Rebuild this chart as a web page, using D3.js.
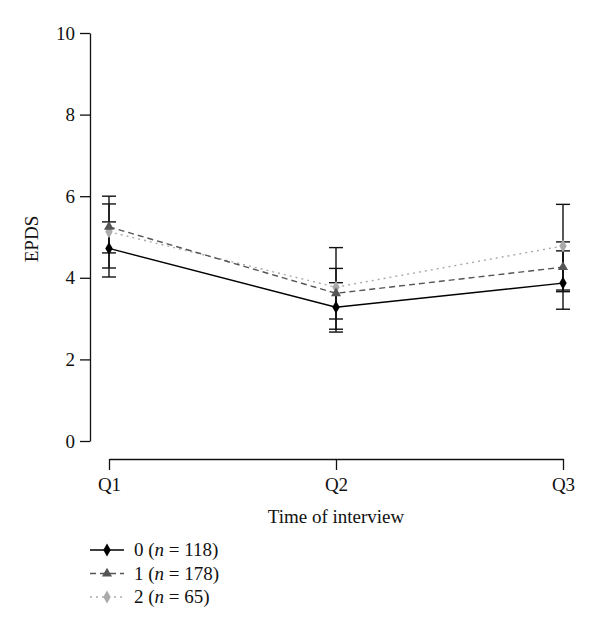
<!DOCTYPE html>
<html><head><meta charset="utf-8">
<script src="https://cdn.jsdelivr.net/npm/d3@7"></script>
<style>body{margin:0;background:#fff}svg{display:block}text{font-family:"Liberation Serif","DejaVu Serif",serif;fill:#111}</style>
</head><body>
<script>
const categories = ["Q1","Q2","Q3"];
const seriesNames = ["0","1","2"];
const seriesN = [118,178,65];
const means0 = [4.72, 3.28, 3.87];
const means1 = [5.25, 3.62, 4.26];
const means2 = [5.13, 3.77, 4.78];
const lower0 = [4.02, 2.67, 3.23];
const upper0 = [5.37, 3.88, 4.66];
const lower1 = [4.61, 2.99, 3.66];
const upper1 = [5.81, 4.23, 4.88];
const lower2 = [4.24, 2.74, 3.70];
const upper2 = [6.00, 4.74, 5.80];
const yTicks = [0,2,4,6,8,10];

const W=600,H=630;
const svg=d3.select("body").append("svg").attr("width",W).attr("height",H);
const x=d3.scalePoint().domain(categories).range([109,563]);
const y=d3.scaleLinear().domain([0,10]).range([441,33]);

const series=[
 {name:seriesNames[0],n:seriesN[0],m:means0,lo:lower0,hi:upper0,color:"#000",dash:null,shape:"diamond",mcolor:"#000"},
 {name:seriesNames[1],n:seriesN[1],m:means1,lo:lower1,hi:upper1,color:"#555",dash:"6,4",shape:"triangle",mcolor:"#555"},
 {name:seriesNames[2],n:seriesN[2],m:means2,lo:lower2,hi:upper2,color:"#aaa",dash:"2,4",shape:"diamond",mcolor:"#aaa"}
];

// y axis
const ya=svg.append("g").attr("transform","translate(90,0)")
 .call(d3.axisLeft(y).tickValues(yTicks).tickSize(10).tickSizeOuter(0).tickPadding(5));
ya.select(".domain").attr("stroke","#111").attr("stroke-width",1.3);
ya.selectAll(".tick line").attr("stroke","#111").attr("stroke-width",1.3);
ya.selectAll(".tick text").style("font-size","19px").style("font-family","Liberation Serif").attr("fill","#111");

// x axis
const xa=svg.append("g").attr("transform","translate(0,459)")
 .call(d3.axisBottom(x).tickSize(11).tickSizeOuter(0).tickPadding(8));
xa.select(".domain").attr("stroke","#111").attr("stroke-width",1.3);
xa.selectAll(".tick line").attr("stroke","#111").attr("stroke-width",1.3);
xa.selectAll(".tick text").style("font-size","19px").style("font-family","Liberation Serif").attr("fill","#111");

svg.append("text").attr("x",336).attr("y",523).attr("text-anchor","middle").style("font-size","19px").text("Time of interview");
svg.append("text").attr("transform","translate(38,239) rotate(-90)").attr("text-anchor","middle").style("font-size","19px").text("EPDS");

const sym={diamond:d3.symbol().type(d3.symbolDiamond).size(48),triangle:d3.symbol().type(d3.symbolTriangle).size(44)};

// lines
series.slice().reverse().forEach(s=>{
 const line=d3.line().x((d,i)=>x(categories[i])).y(d=>y(d));
 svg.append("path").datum(s.m).attr("d",line).attr("fill","none").attr("stroke",s.color).attr("stroke-width",1.4)
  .attr("stroke-dasharray",s.dash);
});
// error bars
series.forEach(s=>{
 categories.forEach((c,i)=>{
  const g=svg.append("g").attr("stroke","#111").attr("stroke-width",1.4);
  g.append("line").attr("x1",x(c)).attr("x2",x(c)).attr("y1",y(s.lo[i])).attr("y2",y(s.hi[i]));
  [s.lo[i],s.hi[i]].forEach(v=>g.append("line").attr("x1",x(c)-7).attr("x2",x(c)+7).attr("y1",y(v)).attr("y2",y(v)));
 });
});
// markers
series.slice().reverse().forEach(s=>{
 s.m.forEach((v,i)=>{
  svg.append("path").attr("d",sym[s.shape]()).attr("transform",`translate(${x(categories[i])},${y(v)})`).attr("fill",s.mcolor);
 });
});

// legend
series.forEach((s,i)=>{
 const ly=550+i*23.5;
 svg.append("line").attr("x1",90).attr("x2",124).attr("y1",ly).attr("y2",ly).attr("stroke",s.color).attr("stroke-width",1.4).attr("stroke-dasharray",s.dash);
 svg.append("path").attr("d",sym[s.shape]()).attr("transform",`translate(107,${ly})`).attr("fill",s.mcolor);
 const t=svg.append("text").attr("x",134).attr("y",ly+6).style("font-size","19px");
 t.append("tspan").text(s.name+" (");
 t.append("tspan").style("font-style","italic").text("n");
 t.append("tspan").text(" = "+s.n+")");
});
</script>
</body></html>
